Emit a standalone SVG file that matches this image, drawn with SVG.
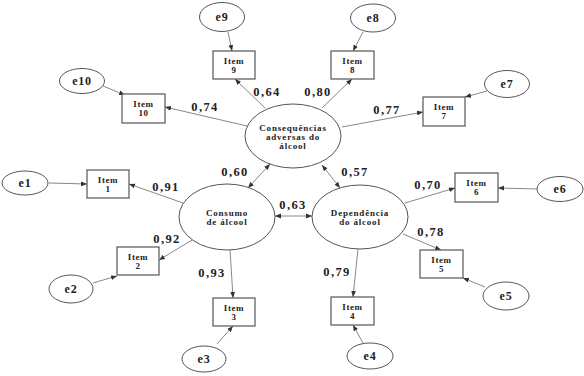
<svg xmlns="http://www.w3.org/2000/svg" width="584" height="376" viewBox="0 0 584 376">
<style>
.bg{fill:#fff}
.lat{fill:#fff;stroke:#555;stroke-width:1}
.err{fill:#fff;stroke:#555;stroke-width:1}
.box{fill:#fff;stroke:#555;stroke-width:1.2}
.c{stroke:#888;stroke-width:1;fill:none;marker-end:url(#ah)}
.d{stroke:#888;stroke-width:1;fill:none;marker-end:url(#ah);marker-start:url(#ah)}
text{font-family:"Liberation Serif","Times New Roman",serif;font-weight:bold;fill:#222;text-anchor:middle}
.it{font-size:9px;letter-spacing:0.6px}
.lv{font-size:9px;letter-spacing:0.8px}
.ev{font-size:12px;letter-spacing:0.8px}
.lb{font-size:12.5px;letter-spacing:1.4px}
</style>
<defs>
<marker id="ah" viewBox="0 0 10 10" refX="10" refY="5" markerWidth="6" markerHeight="6" markerUnits="userSpaceOnUse" orient="auto-start-reverse">
<path d="M0,1 L10,5 L0,9 z" fill="#333"/>
</marker>
</defs>
<rect class="bg" x="0" y="0" width="584" height="376"/>

<g id="connectors">
<line class="c" x1="265" y1="108" x2="235" y2="79"/>
<line class="c" x1="322" y1="108" x2="352" y2="79"/>
<line class="c" x1="247" y1="126" x2="165" y2="107"/>
<line class="c" x1="342" y1="127" x2="423" y2="112"/>
<line class="c" x1="228" y1="32" x2="232" y2="51"/>
<line class="c" x1="103" y1="86" x2="125" y2="95"/>
<line class="c" x1="363" y1="32" x2="353" y2="51"/>
<line class="c" x1="487" y1="91" x2="465" y2="97"/>
<line class="c" x1="49" y1="183" x2="87" y2="184"/>
<line class="c" x1="183" y1="203" x2="129" y2="184"/>
<line class="c" x1="192" y1="240" x2="159" y2="260"/>
<line class="c" x1="230" y1="249" x2="233" y2="298"/>
<line class="c" x1="93" y1="283" x2="117" y2="276"/>
<line class="c" x1="217" y1="344" x2="233" y2="326"/>
<line class="d" x1="248" y1="188" x2="270" y2="164"/>
<line class="d" x1="340" y1="188" x2="322" y2="165"/>
<line class="d" x1="275" y1="216" x2="312" y2="216"/>
<line class="c" x1="405" y1="203" x2="455" y2="188"/>
<line class="c" x1="403" y1="234" x2="441" y2="250"/>
<line class="c" x1="358" y1="249" x2="353" y2="297"/>
<line class="c" x1="537" y1="189" x2="498" y2="188"/>
<line class="c" x1="485" y1="287" x2="463" y2="278"/>
<line class="c" x1="363" y1="343" x2="353" y2="325"/>
</g>

<g id="labels">
<text class="lb" x="205" y="111">0,74</text>
<text class="lb" x="267" y="96">0,64</text>
<text class="lb" x="318" y="96">0,80</text>
<text class="lb" x="387" y="114">0,77</text>
<text class="lb" x="235" y="176">0,60</text>
<text class="lb" x="355" y="176">0,57</text>
<text class="lb" x="293" y="209">0,63</text>
<text class="lb" x="166" y="191">0,91</text>
<text class="lb" x="428" y="189">0,70</text>
<text class="lb" x="167" y="243">0,92</text>
<text class="lb" x="431" y="236">0,78</text>
<text class="lb" x="212" y="277">0,93</text>
<text class="lb" x="337" y="276">0,79</text>
</g>

<g id="consequencias">
<ellipse class="lat" cx="293" cy="136" rx="48" ry="32"/>
<text class="lv" x="293" y="131">Consequências</text>
<text class="lv" x="293" y="140">adversas do</text>
<text class="lv" x="293" y="149">álcool</text>
</g>
<g id="consumo">
<ellipse class="lat" cx="227" cy="217" rx="48" ry="33"/>
<text class="lv" x="227" y="216">Consumo</text>
<text class="lv" x="227" y="225">de álcool</text>
</g>
<g id="dependencia">
<ellipse class="lat" cx="360" cy="217" rx="48" ry="32"/>
<text class="lv" x="360" y="216">Dependência</text>
<text class="lv" x="360" y="225">do álcool</text>
</g>

<g id="item1"><rect class="box" x="87" y="170" width="42" height="28"/><text class="it" x="108" y="183">Item</text><text class="it" x="108" y="192">1</text></g>
<g id="item2"><rect class="box" x="117" y="247" width="42" height="28"/><text class="it" x="138" y="260">Item</text><text class="it" x="138" y="269">2</text></g>
<g id="item3"><rect class="box" x="213" y="298" width="42" height="28"/><text class="it" x="234" y="311">Item</text><text class="it" x="234" y="320">3</text></g>
<g id="item4"><rect class="box" x="331" y="297" width="43" height="28"/><text class="it" x="352.5" y="310">Item</text><text class="it" x="352.5" y="319">4</text></g>
<g id="item5"><rect class="box" x="420" y="250" width="43" height="28"/><text class="it" x="441.5" y="263">Item</text><text class="it" x="441.5" y="272">5</text></g>
<g id="item6"><rect class="box" x="455" y="173" width="43" height="29"/><text class="it" x="476.5" y="186">Item</text><text class="it" x="476.5" y="195">6</text></g>
<g id="item7"><rect class="box" x="423" y="97" width="42" height="29"/><text class="it" x="444" y="110">Item</text><text class="it" x="444" y="119">7</text></g>
<g id="item8"><rect class="box" x="331" y="51" width="43" height="28"/><text class="it" x="352.5" y="64">Item</text><text class="it" x="352.5" y="73">8</text></g>
<g id="item9"><rect class="box" x="213" y="51" width="42" height="28"/><text class="it" x="234" y="64">Item</text><text class="it" x="234" y="73">9</text></g>
<g id="item10"><rect class="box" x="122" y="94" width="43" height="29"/><text class="it" x="143.5" y="107">Item</text><text class="it" x="143.5" y="116">10</text></g>

<g id="e1"><ellipse class="err" cx="25" cy="183" rx="23" ry="12"/><text class="ev" x="25" y="187">e1</text></g>
<g id="e2"><ellipse class="err" cx="71" cy="289" rx="22" ry="14"/><text class="ev" x="71" y="293">e2</text></g>
<g id="e3"><ellipse class="err" cx="204" cy="359" rx="22" ry="13"/><text class="ev" x="204" y="363">e3</text></g>
<g id="e4"><ellipse class="err" cx="370" cy="356" rx="23" ry="13"/><text class="ev" x="370" y="360">e4</text></g>
<g id="e5"><ellipse class="err" cx="506" cy="296" rx="23" ry="14"/><text class="ev" x="506" y="300">e5</text></g>
<g id="e6"><ellipse class="err" cx="560" cy="189" rx="23" ry="12.5"/><text class="ev" x="560" y="193">e6</text></g>
<g id="e7"><ellipse class="err" cx="507" cy="84" rx="22.5" ry="13.5"/><text class="ev" x="507" y="88">e7</text></g>
<g id="e8"><ellipse class="err" cx="373" cy="18" rx="22.5" ry="14"/><text class="ev" x="373" y="22">e8</text></g>
<g id="e9"><ellipse class="err" cx="222" cy="17" rx="22.5" ry="14.5"/><text class="ev" x="222" y="21">e9</text></g>
<g id="e10"><ellipse class="err" cx="82" cy="81" rx="22.5" ry="12.5"/><text class="ev" x="82" y="85">e10</text></g>
</svg>
